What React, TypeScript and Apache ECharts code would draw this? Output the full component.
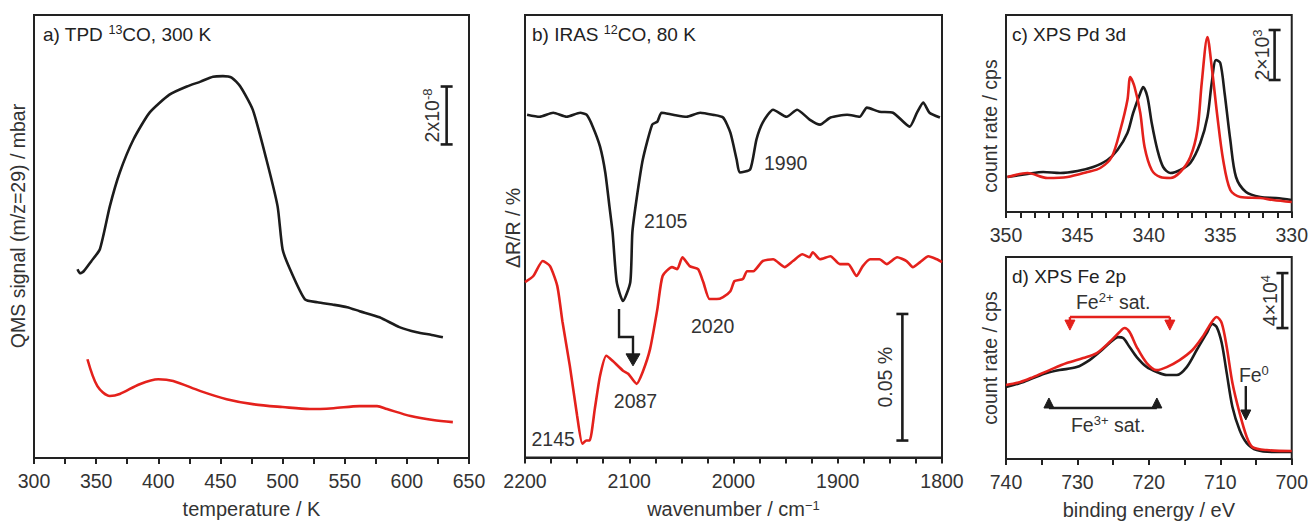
import React, { useEffect, useRef } from "react";
import * as echarts from "echarts";

// ---------- Panel a: TPD (temperature / K, signal in 1e-9 mbar, offset) ----------
const tpdBlackT = [335, 337, 340, 346, 353, 361, 369, 380, 393, 409, 423, 434, 444, 452, 459, 466, 476, 487, 496, 500, 506, 518, 528, 540, 552, 562, 578, 594, 608, 620, 629];
const tpdBlackY = [65.2, 63.8, 64.5, 67.9, 72.1, 86.9, 98.6, 110, 119.3, 125.5, 128.3, 130, 131.7, 131.9, 131.4, 128.3, 120.3, 103.1, 86.9, 72.1, 65.2, 54.8, 53.8, 53, 52.1, 50.7, 48.6, 45.2, 43.4, 42.5, 41.7];
const tpdRedT = [343, 351, 361, 369, 385, 400, 412, 434, 455, 476, 500, 522, 541, 562, 576, 584, 603, 621, 637];
const tpdRedY = [34.1, 24.8, 21.4, 22.1, 25.5, 27.2, 26.6, 23.1, 20.3, 18.6, 17.6, 16.9, 17.2, 17.9, 17.9, 16.9, 14.5, 13.1, 12.4];

// ---------- Panel b: IRAS (wavenumber / cm-1, dR/R in 0.001 %) ----------
const irasBlackW = [2198, 2186, 2173, 2160, 2147, 2141, 2135, 2128, 2123, 2119, 2116, 2112, 2106, 2099, 2097, 2093, 2087, 2078, 2073, 2069, 2058, 2045, 2032, 2020, 2010, 2003, 1997, 1994, 1984, 1978, 1972, 1962, 1949, 1939, 1927, 1917, 1907, 1891, 1879, 1872, 1860, 1847, 1831, 1824, 1818, 1812, 1802];
const irasBlackY = [135.4, 134.6, 136.2, 134.6, 136.2, 135.4, 130.7, 122.8, 112.6, 99.2, 89, 69.3, 61.8, 69.3, 89, 102, 117.7, 131.5, 132.7, 136.2, 135.4, 134.6, 136.2, 135.4, 134.3, 128.3, 117.7, 112.6, 113.8, 125.6, 132.3, 137.4, 134.6, 137.4, 133.5, 131.5, 134.3, 135.4, 134.6, 138.2, 136.6, 136.2, 130.7, 136.2, 140.2, 136.2, 134.3];
const irasRedW = [2200, 2192, 2183, 2176, 2169, 2164, 2157, 2150, 2145, 2141, 2138, 2133, 2128, 2122, 2116, 2106, 2101, 2093, 2087, 2080, 2073, 2068, 2059, 2054, 2049, 2042, 2034, 2029, 2023, 2016, 2010, 2003, 1999, 1991, 1987, 1981, 1972, 1962, 1951, 1943, 1934, 1927, 1924, 1917, 1907, 1898, 1890, 1882, 1876, 1869, 1860, 1853, 1843, 1834, 1828, 1821, 1813, 1805, 1800];
const irasRedY = [69.3, 71.7, 77.6, 75.6, 67.7, 53.5, 36.2, 16.5, 5.5, 6.7, 6.7, 19.3, 32.3, 40.2, 38.2, 34.3, 33.1, 29.1, 33.9, 42.9, 58.7, 71.7, 75.2, 74.4, 79.1, 75.6, 74.4, 69.3, 62.6, 62.6, 63.4, 65.7, 69.7, 70.5, 73.6, 73.6, 77.6, 78.3, 75.2, 77.6, 80.3, 79.1, 81.1, 78.3, 79.5, 76.4, 76.4, 71.7, 75.6, 78.3, 78.3, 76.4, 79.1, 77.6, 75.2, 77.2, 79.5, 78.3, 77.2];

// ---------- Panel c: XPS Pd 3d (binding energy / eV, count rate in 1e3 cps) ----------
const pdBlackE = [349.9, 348.5, 347.4, 346.2, 345.0, 343.9, 342.9, 342.2, 341.5, 341.1, 340.6, 340.4, 340.1, 339.8, 339.4, 339.0, 338.5, 337.8, 337.1, 336.4, 335.9, 335.6, 335.3, 335.0, 334.7, 334.3, 333.9, 333.2, 332.2, 331.1, 330.0];
const pdBlackY = [1.4, 1.52, 1.6, 1.56, 1.64, 1.8, 2.08, 2.48, 3.16, 3.96, 4.76, 5.0, 4.6, 3.56, 2.48, 1.8, 1.56, 1.68, 1.96, 2.76, 3.8, 5.16, 6.08, 5.96, 4.76, 2.88, 1.4, 0.8, 0.6, 0.56, 0.48];
const pdRedE = [349.9, 348.5, 347.1, 345.7, 344.3, 343.4, 342.6, 342.0, 341.5, 341.3, 341.0, 340.6, 340.3, 339.8, 339.2, 338.5, 337.8, 337.1, 336.6, 336.3, 335.9, 335.6, 335.2, 334.8, 334.3, 333.6, 332.2, 331.3, 330.0];
const pdRedY = [1.4, 1.56, 1.36, 1.4, 1.6, 1.76, 2.2, 3.28, 4.48, 5.4, 5.0, 3.96, 2.6, 1.68, 1.4, 1.36, 1.6, 2.2, 3.28, 5.16, 7.0, 5.8, 3.8, 2.08, 0.88, 0.6, 0.56, 0.48, 0.4];

// ---------- Panel d: XPS Fe 2p (binding energy / eV, count rate in 1e4 cps) ----------
const feBlackE = [740, 738.0, 736.2, 734.3, 732.5, 730.1, 728.3, 726.9, 725.5, 724.3, 723.6, 722.7, 721.7, 720.3, 718.9, 717.5, 716.1, 714.7, 713.3, 711.9, 711.1, 710.5, 709.8, 709.1, 708.3, 707.3, 706.3, 704.9, 702.7, 700];
const feBlackY = [5.24, 5.53, 5.89, 6.25, 6.47, 6.69, 7.2, 7.78, 8.44, 8.87, 8.8, 8.15, 7.42, 6.69, 6.33, 6.11, 6.11, 6.69, 7.93, 9.16, 9.82, 9.6, 8.44, 6.25, 3.78, 2.11, 1.16, 0.65, 0.51, 0.51];
const feRedE = [740, 738.0, 736.2, 733.9, 731.5, 729.2, 727.3, 725.5, 724.1, 723.4, 722.7, 721.7, 720.3, 718.9, 717.5, 715.7, 713.9, 712.5, 711.2, 710.5, 709.8, 709.1, 708.3, 707.3, 706.3, 705.5, 703.5, 700];
const feRedY = [5.38, 5.6, 5.96, 6.47, 6.98, 7.35, 7.71, 8.51, 9.24, 9.53, 9.24, 8.15, 6.98, 6.47, 6.69, 7.2, 7.93, 8.87, 9.96, 10.33, 9.89, 8.15, 5.53, 3.35, 1.6, 0.87, 0.65, 0.58];

// ---------- peak labels (panel b) ----------
const peakLabels = ["1990", "2105", "2020", "2087", "2145"];
const peakLabelW = [1950, 2065, 2020, 2094, 2173];
const peakLabelY = [116.5, 93.3, 52, 22.4, 7.5];

const FONT = "'Liberation Sans', Arial, Helvetica, sans-serif";
const TXT = "#333";
const FRAME = "#222";
const BLACK = "#1c1c1c";
const RED = "#e4211c";

const zip = (xs: number[], ys: number[]) => xs.map((x, i) => [x, ys[i]]);

function xAxisDef(gi: number, min: number, max: number, interval: number, labelEvery: number, inverse: boolean, name: string) {
  return {
    type: "value",
    gridIndex: gi,
    min,
    max,
    interval,
    inverse,
    axisLine: { show: true, onZero: false, lineStyle: { color: FRAME, width: 2 } },
    axisTick: { show: true, inside: false, length: 6, lineStyle: { color: FRAME, width: 2 } },
    axisLabel: {
      show: true,
      margin: 13,
      fontSize: 19.5,
      color: TXT,
      fontFamily: FONT,
      hideOverlap: false,
      showMinLabel: true,
      showMaxLabel: true,
      formatter: (v: number) => (Math.abs(Math.round(v) % labelEvery) < 1e-6 ? String(Math.round(v)) : ""),
    },
    splitLine: { show: false },
    name,
    nameLocation: "middle",
    nameGap: 41,
    nameTextStyle: {
      fontSize: 20,
      color: TXT,
      fontFamily: FONT,
      rich: {
        sup: { fontSize: 13, verticalAlign: "top", color: TXT, fontFamily: FONT, padding: [0, 0, 8, 0] },
      },
    },
  };
}

function yAxisDef(gi: number, min: number, max: number) {
  return { type: "value", gridIndex: gi, min, max, show: false };
}

function lineSeries(gi: number, data: number[][], color: string, smooth: boolean | number) {
  return {
    type: "line",
    xAxisIndex: gi,
    yAxisIndex: gi,
    data,
    showSymbol: false,
    symbol: "none",
    smooth,
    lineStyle: { color, width: 2.6 },
    silent: true,
  };
}

const richStyles = {
  n: { fontSize: 19, lineHeight: 22, fill: "#222", color: "#222", fontFamily: FONT },
  s: { fontSize: 12.5, lineHeight: 13, verticalAlign: "top", fill: "#222", color: "#222", fontFamily: FONT },
  t: { fontSize: 19.5, lineHeight: 22, fill: TXT, color: TXT, fontFamily: FONT },
  ts: { fontSize: 13, lineHeight: 13, verticalAlign: "top", fill: TXT, color: TXT, fontFamily: FONT },
};

export default function App() {
  const ref = useRef<HTMLDivElement>(null);

  useEffect(() => {
    const chart = echarts.init(ref.current as HTMLDivElement, null, { renderer: "svg" });

    const grids = [
      { left: 34, top: 15, width: 435, height: 444 },
      { left: 525, top: 15, width: 417, height: 444 },
      { left: 1006, top: 15, width: 286, height: 197 },
      { left: 1006, top: 257, width: 286, height: 202 },
    ].map((g) => ({ ...g, show: true, borderColor: FRAME, borderWidth: 2, backgroundColor: "transparent" }));

    chart.setOption({
      animation: false,
      grid: grids,
      xAxis: [
        xAxisDef(0, 300, 650, 25, 50, false, "temperature / K"),
        xAxisDef(1, 1800, 2200, 25, 100, true, "wavenumber / cm{sup|−1}"),
        xAxisDef(2, 330, 350, 1, 5, true, ""),
        xAxisDef(3, 700, 740, 5, 10, true, "binding energy / eV"),
      ],
      yAxis: [yAxisDef(0, 0, 153), yAxisDef(1, 0, 174.8), yAxisDef(2, 0, 7.88), yAxisDef(3, 0, 14.7)],
      series: [
        lineSeries(0, zip(tpdBlackT, tpdBlackY), BLACK, 0.2),
        lineSeries(0, zip(tpdRedT, tpdRedY), RED, 0.3),
        lineSeries(1, zip(irasBlackW, irasBlackY), BLACK, 0.2),
        lineSeries(1, zip(irasRedW, irasRedY), RED, 0.2),
        lineSeries(2, zip(pdBlackE, pdBlackY), BLACK, 0.3),
        lineSeries(2, zip(pdRedE, pdRedY), RED, 0.3),
        lineSeries(3, zip(feBlackE, feBlackY), BLACK, 0.3),
        lineSeries(3, zip(feRedE, feRedY), RED, 0.3),
      ],
    });

    const P = (gi: number, x: number, y: number): number[] =>
      chart.convertToPixel({ gridIndex: gi } as any, [x, y]) as number[];

    const g: any[] = [];
    const line = (a: number[], b: number[], color = BLACK, w = 2.2) =>
      g.push({ type: "line", shape: { x1: a[0], y1: a[1], x2: b[0], y2: b[1] }, style: { stroke: color, lineWidth: w }, silent: true });
    const tri = (pts: number[][], color = BLACK) =>
      g.push({ type: "polygon", shape: { points: pts }, style: { fill: color, stroke: color, lineWidth: 1 }, silent: true });
    const text = (x: number, y: number, t: string, opts: any = {}) =>
      g.push({
        type: "text",
        x,
        y,
        rotation: opts.rotation || 0,
        silent: true,
        style: {
          text: t,
          fill: opts.fill || TXT,
          fontSize: 19,
          fontFamily: FONT,
          align: opts.align || "center",
          verticalAlign: "middle",
          rich: richStyles,
        },
      });
    const scaleBar = (gi: number, x: number, y0: number, y1: number) => {
      const a = P(gi, x, y0);
      const b = P(gi, x, y1);
      line(a, b, BLACK, 2.6);
      line([a[0] - 6, a[1]], [a[0] + 6, a[1]], BLACK, 2.6);
      line([b[0] - 6, b[1]], [b[0] + 6, b[1]], BLACK, 2.6);
    };
    const arrowDown = (tip: number[], color = BLACK) => tri([[tip[0], tip[1]], [tip[0] - 5, tip[1] - 10], [tip[0] + 5, tip[1] - 10]], color);
    const arrowUp = (tip: number[], color = BLACK) => tri([[tip[0], tip[1]], [tip[0] - 5, tip[1] + 10], [tip[0] + 5, tip[1] + 10]], color);

    // Titles
    text(43, 34, "{n|a) TPD }{s|13}{n|CO, 300 K}", { align: "left" });
    text(532, 34, "{n|b) IRAS }{s|12}{n|CO, 80 K}", { align: "left" });
    text(1012, 34, "{n|c) XPS Pd 3d}", { align: "left" });
    text(1012, 276, "{n|d) XPS Fe 2p}", { align: "left" });

    // Y axis titles
    const R = Math.PI / 2;
    text(18, 226, "{t|QMS signal (m/z=29) / mbar}", { rotation: R });
    text(513, 228, "{t|ΔR/R / %}", { rotation: R });
    text(990, 126, "{t|count rate / cps}", { rotation: R });
    text(990, 358, "{t|count rate / cps}", { rotation: R });

    // Panel a scale bar (2x10^-8 mbar = 20 units of 1e-9)
    scaleBar(0, 632, 108.3, 128.3);
    {
      const p = P(0, 620, 118.3);
      text(p[0], p[1], "{t|2x10}{ts|-8}", { rotation: R });
    }

    // Panel b scale bar (0.05 % = 50 units of 0.001 %)
    scaleBar(1, 1838, 6.7, 56.7);
    {
      const p = P(1, 1855, 31.7);
      text(p[0], p[1], "{t|0.05 %}", { rotation: R });
    }
    peakLabels.forEach((lab, i) => {
      const p = P(1, peakLabelW[i], peakLabelY[i]);
      text(p[0], p[1], `{t|${lab}}`);
    });
    {
      const a = P(1, 2109.8, 58.7);
      const b = P(1, 2109.8, 47.6);
      const c = P(1, 2096.4, 47.6);
      const d = P(1, 2096.4, 40.2);
      const tip = P(1, 2096.4, 36.2);
      g.push({ type: "polyline", shape: { points: [a, b, c, d] }, style: { stroke: BLACK, lineWidth: 2.4, fill: "none" }, silent: true });
      tri([[tip[0], tip[1]], [tip[0] - 7, tip[1] - 12], [tip[0] + 7, tip[1] - 12]]);
    }

    // Panel c scale bar (2x10^3 cps = 2 units of 1e3)
    scaleBar(2, 331.2, 5.28, 7.28);
    {
      const p = P(2, 332.1, 6.28);
      text(p[0], p[1], "{t|2×10}{ts|3}", { rotation: R });
    }

    // Panel d scale bar (4x10^4 cps = 4 units of 1e4)
    scaleBar(3, 701.3, 9.53, 13.53);
    {
      const p = P(3, 703.1, 11.53);
      text(p[0], p[1], "{t|4×10}{ts|4}", { rotation: R });
    }
    // Fe2+ sat. bracket (red)
    {
      const l = P(3, 731.05, 10.33);
      const r = P(3, 717.06, 10.33);
      const lb = P(3, 731.05, 9.38);
      const rb = P(3, 717.06, 9.38);
      line(l, r, RED, 2.4);
      line(l, [lb[0], lb[1] - 4], RED, 2.4);
      line(r, [rb[0], rb[1] - 4], RED, 2.4);
      arrowDown(lb, RED);
      arrowDown(rb, RED);
      const t = P(3, 725.0, 11.42);
      text(t[0], t[1], "{t|Fe}{ts|2+}{t| sat.}");
    }
    // Fe3+ sat. bracket (black)
    {
      const l = P(3, 733.99, 3.71);
      const r = P(3, 718.88, 3.71);
      const lt = P(3, 733.99, 4.44);
      const rt = P(3, 718.88, 4.44);
      line(l, r, BLACK, 2.4);
      line(l, [lt[0], lt[1] + 4], BLACK, 2.4);
      line(r, [rt[0], rt[1] + 4], BLACK, 2.4);
      arrowUp(lt);
      arrowUp(rt);
      const t = P(3, 725.7, 2.47);
      text(t[0], t[1], "{t|Fe}{ts|3+}{t| sat.}");
    }
    // Fe0 arrow
    {
      const t = P(3, 705.3, 6.11);
      text(t[0], t[1], "{t|Fe}{ts|0}");
      const a = P(3, 706.43, 5.31);
      const b = P(3, 706.43, 2.84);
      line(a, [b[0], b[1] - 4], BLACK, 2.4);
      arrowDown(b);
    }

    chart.setOption({ graphic: g });

    return () => chart.dispose();
  }, []);

  return <div ref={ref} style={{ position: "absolute", left: 0, top: 0, width: 1311, height: 524 }} />;
}
